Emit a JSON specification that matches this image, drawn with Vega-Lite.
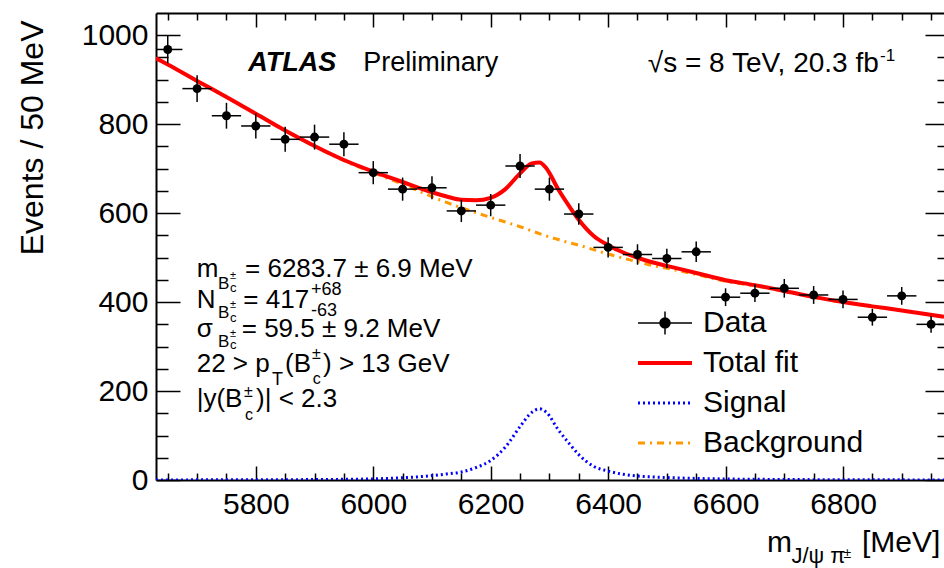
{
  "$schema": "https://vega.github.io/schema/vega-lite/v6.json",
  "width": 788,
  "height": 467,
  "autosize": {"type": "none"},
  "padding": {"left": 156, "top": 13, "right": 0, "bottom": 88},
  "background": "white",
  "config": {
    "view": {"stroke": null},
    "font": "Liberation Sans",
    "axis": {
      "grid": false,
      "domainColor": "black",
      "domainWidth": 2,
      "tickColor": "black",
      "tickWidth": 1.5,
      "labelFont": "Liberation Sans",
      "labelFontSize": 30,
      "labelColor": "black",
      "labelOverlap": false,
      "labelFlush": false,
      "titleFont": "Liberation Sans",
      "titleColor": "black",
      "titleFontWeight": "normal"
    }
  },
  "datasets": {
    "curves": [
      {"m": 5630, "v": 948, "series": "Background"},
      {"m": 5650, "v": 934, "series": "Background"},
      {"m": 5700, "v": 897, "series": "Background"},
      {"m": 5750, "v": 860.5, "series": "Background"},
      {"m": 5800, "v": 823, "series": "Background"},
      {"m": 5850, "v": 785, "series": "Background"},
      {"m": 5900, "v": 750, "series": "Background"},
      {"m": 5950, "v": 718, "series": "Background"},
      {"m": 6000, "v": 691, "series": "Background"},
      {"m": 6025, "v": 678, "series": "Background"},
      {"m": 6050, "v": 665, "series": "Background"},
      {"m": 6075, "v": 651, "series": "Background"},
      {"m": 6100, "v": 637, "series": "Background"},
      {"m": 6125, "v": 624, "series": "Background"},
      {"m": 6150, "v": 612, "series": "Background"},
      {"m": 6175, "v": 601, "series": "Background"},
      {"m": 6200, "v": 590.5, "series": "Background"},
      {"m": 6225, "v": 580, "series": "Background"},
      {"m": 6250, "v": 569.5, "series": "Background"},
      {"m": 6270, "v": 560, "series": "Background"},
      {"m": 6283, "v": 554, "series": "Background"},
      {"m": 6295, "v": 548.5, "series": "Background"},
      {"m": 6315, "v": 540.6, "series": "Background"},
      {"m": 6335, "v": 533, "series": "Background"},
      {"m": 6350, "v": 528, "series": "Background"},
      {"m": 6375, "v": 518, "series": "Background"},
      {"m": 6400, "v": 508, "series": "Background"},
      {"m": 6425, "v": 499, "series": "Background"},
      {"m": 6450, "v": 490.7, "series": "Background"},
      {"m": 6475, "v": 482.5, "series": "Background"},
      {"m": 6500, "v": 476, "series": "Background"},
      {"m": 6550, "v": 462, "series": "Background"},
      {"m": 6600, "v": 447, "series": "Background"},
      {"m": 6650, "v": 436.5, "series": "Background"},
      {"m": 6700, "v": 424, "series": "Background"},
      {"m": 6750, "v": 411, "series": "Background"},
      {"m": 6800, "v": 399.5, "series": "Background"},
      {"m": 6850, "v": 390, "series": "Background"},
      {"m": 6900, "v": 381, "series": "Background"},
      {"m": 6972, "v": 367, "series": "Background"},
      {"m": 5630, "v": 0.2, "series": "Signal"},
      {"m": 5700, "v": 0.3, "series": "Signal"},
      {"m": 5800, "v": 0.5, "series": "Signal"},
      {"m": 5900, "v": 1, "series": "Signal"},
      {"m": 5950, "v": 1.5, "series": "Signal"},
      {"m": 6000, "v": 2.5, "series": "Signal"},
      {"m": 6025, "v": 3.5, "series": "Signal"},
      {"m": 6050, "v": 5, "series": "Signal"},
      {"m": 6075, "v": 7, "series": "Signal"},
      {"m": 6100, "v": 10, "series": "Signal"},
      {"m": 6125, "v": 13.5, "series": "Signal"},
      {"m": 6150, "v": 18, "series": "Signal"},
      {"m": 6175, "v": 28, "series": "Signal"},
      {"m": 6200, "v": 44, "series": "Signal"},
      {"m": 6225, "v": 74, "series": "Signal"},
      {"m": 6250, "v": 120, "series": "Signal"},
      {"m": 6270, "v": 152, "series": "Signal"},
      {"m": 6283, "v": 160, "series": "Signal"},
      {"m": 6295, "v": 152, "series": "Signal"},
      {"m": 6315, "v": 113, "series": "Signal"},
      {"m": 6335, "v": 80, "series": "Signal"},
      {"m": 6350, "v": 57, "series": "Signal"},
      {"m": 6375, "v": 31, "series": "Signal"},
      {"m": 6400, "v": 20, "series": "Signal"},
      {"m": 6425, "v": 13, "series": "Signal"},
      {"m": 6450, "v": 9, "series": "Signal"},
      {"m": 6475, "v": 7, "series": "Signal"},
      {"m": 6500, "v": 5.5, "series": "Signal"},
      {"m": 6550, "v": 3.5, "series": "Signal"},
      {"m": 6600, "v": 2.3, "series": "Signal"},
      {"m": 6650, "v": 1.6, "series": "Signal"},
      {"m": 6700, "v": 1.1, "series": "Signal"},
      {"m": 6800, "v": 0.6, "series": "Signal"},
      {"m": 6900, "v": 0.3, "series": "Signal"},
      {"m": 6972, "v": 0.2, "series": "Signal"},
      {"m": 5630, "v": 948.2, "series": "Total fit"},
      {"m": 5650, "v": 934.2, "series": "Total fit"},
      {"m": 5700, "v": 897.3, "series": "Total fit"},
      {"m": 5750, "v": 860.9, "series": "Total fit"},
      {"m": 5800, "v": 823.5, "series": "Total fit"},
      {"m": 5850, "v": 785.7, "series": "Total fit"},
      {"m": 5900, "v": 751, "series": "Total fit"},
      {"m": 5950, "v": 719.5, "series": "Total fit"},
      {"m": 6000, "v": 693.5, "series": "Total fit"},
      {"m": 6025, "v": 681.5, "series": "Total fit"},
      {"m": 6050, "v": 670, "series": "Total fit"},
      {"m": 6075, "v": 658, "series": "Total fit"},
      {"m": 6100, "v": 647, "series": "Total fit"},
      {"m": 6125, "v": 637.5, "series": "Total fit"},
      {"m": 6150, "v": 630, "series": "Total fit"},
      {"m": 6175, "v": 629, "series": "Total fit"},
      {"m": 6200, "v": 634.5, "series": "Total fit"},
      {"m": 6225, "v": 654, "series": "Total fit"},
      {"m": 6250, "v": 689.5, "series": "Total fit"},
      {"m": 6270, "v": 712, "series": "Total fit"},
      {"m": 6283, "v": 714, "series": "Total fit"},
      {"m": 6295, "v": 700.5, "series": "Total fit"},
      {"m": 6315, "v": 653.6, "series": "Total fit"},
      {"m": 6335, "v": 613, "series": "Total fit"},
      {"m": 6350, "v": 585, "series": "Total fit"},
      {"m": 6375, "v": 549, "series": "Total fit"},
      {"m": 6400, "v": 528, "series": "Total fit"},
      {"m": 6425, "v": 512, "series": "Total fit"},
      {"m": 6450, "v": 499.7, "series": "Total fit"},
      {"m": 6475, "v": 489.5, "series": "Total fit"},
      {"m": 6500, "v": 481.5, "series": "Total fit"},
      {"m": 6550, "v": 465.5, "series": "Total fit"},
      {"m": 6600, "v": 449.3, "series": "Total fit"},
      {"m": 6650, "v": 438.1, "series": "Total fit"},
      {"m": 6700, "v": 425.1, "series": "Total fit"},
      {"m": 6750, "v": 411.8, "series": "Total fit"},
      {"m": 6800, "v": 400.1, "series": "Total fit"},
      {"m": 6850, "v": 390.4, "series": "Total fit"},
      {"m": 6900, "v": 381.3, "series": "Total fit"},
      {"m": 6972, "v": 367.2, "series": "Total fit"}
    ],
    "points": [
      {"m": 5650, "n": 968, "lo": 937, "hi": 999, "mlo": 5625, "mhi": 5675},
      {"m": 5700, "n": 880, "lo": 850, "hi": 910, "mlo": 5675, "mhi": 5725},
      {"m": 5750, "n": 819, "lo": 790, "hi": 848, "mlo": 5725, "mhi": 5775},
      {"m": 5800, "n": 796, "lo": 768, "hi": 824, "mlo": 5775, "mhi": 5825},
      {"m": 5850, "n": 766, "lo": 738, "hi": 794, "mlo": 5825, "mhi": 5875},
      {"m": 5900, "n": 771, "lo": 743, "hi": 799, "mlo": 5875, "mhi": 5925},
      {"m": 5950, "n": 755, "lo": 728, "hi": 782, "mlo": 5925, "mhi": 5975},
      {"m": 6000, "n": 691, "lo": 665, "hi": 717, "mlo": 5975, "mhi": 6025},
      {"m": 6050, "n": 654, "lo": 628, "hi": 680, "mlo": 6025, "mhi": 6075},
      {"m": 6100, "n": 657, "lo": 631, "hi": 683, "mlo": 6075, "mhi": 6125},
      {"m": 6150, "n": 605, "lo": 580, "hi": 630, "mlo": 6125, "mhi": 6175},
      {"m": 6200, "n": 618, "lo": 593, "hi": 643, "mlo": 6175, "mhi": 6225},
      {"m": 6250, "n": 706, "lo": 679, "hi": 733, "mlo": 6225, "mhi": 6275},
      {"m": 6300, "n": 654, "lo": 628, "hi": 680, "mlo": 6275, "mhi": 6325},
      {"m": 6350, "n": 598, "lo": 574, "hi": 622, "mlo": 6325, "mhi": 6375},
      {"m": 6400, "n": 523, "lo": 500, "hi": 546, "mlo": 6375, "mhi": 6425},
      {"m": 6450, "n": 507, "lo": 484, "hi": 530, "mlo": 6425, "mhi": 6475},
      {"m": 6500, "n": 498, "lo": 476, "hi": 520, "mlo": 6475, "mhi": 6525},
      {"m": 6550, "n": 513, "lo": 490, "hi": 536, "mlo": 6525, "mhi": 6575},
      {"m": 6600, "n": 411, "lo": 391, "hi": 431, "mlo": 6575, "mhi": 6625},
      {"m": 6650, "n": 420, "lo": 400, "hi": 440, "mlo": 6625, "mhi": 6675},
      {"m": 6700, "n": 431, "lo": 410, "hi": 452, "mlo": 6675, "mhi": 6725},
      {"m": 6750, "n": 416, "lo": 396, "hi": 436, "mlo": 6725, "mhi": 6775},
      {"m": 6800, "n": 406, "lo": 386, "hi": 426, "mlo": 6775, "mhi": 6825},
      {"m": 6850, "n": 366, "lo": 347, "hi": 385, "mlo": 6825, "mhi": 6875},
      {"m": 6900, "n": 414, "lo": 394, "hi": 434, "mlo": 6875, "mhi": 6925},
      {"m": 6950, "n": 350, "lo": 331, "hi": 369, "mlo": 6925, "mhi": 6975}
    ]
  },
  "resolve": {"axis": {"x": "independent", "y": "independent"}},
  "layer": [
    {
      "data": {"name": "curves"},
      "transform": [{"filter": "datum.series !== 'Total fit'"}],
      "mark": {"type": "line", "strokeWidth": 3, "clip": true, "interpolate": "monotone"},
      "encoding": {
        "x": {
          "field": "m", "type": "quantitative",
          "scale": {"domain": [5630, 6972], "nice": false, "zero": false},
          "axis": {
            "orient": "bottom", "title": null, "format": "d",
            "values": [5650,5700,5750,5800,5850,5900,5950,6000,6050,6100,6150,6200,6250,6300,6350,6400,6450,6500,6550,6600,6650,6700,6750,6800,6850,6900,6950],
            "labelExpr": "datum.value % 200 === 0 ? datum.label : ''",
            "tickSize": {"condition": {"test": "datum.value % 200 === 0", "value": -14}, "value": -7},
            "labelPadding": 23.5
          }
        },
        "y": {
          "field": "v", "type": "quantitative",
          "scale": {"domain": [0, 1050], "nice": false, "zero": true},
          "axis": {
            "orient": "left", "title": "Events / 50 MeV", "format": "d",
            "titleFontSize": 32, "titleAngle": 270, "titleAlign": "right", "titleBaseline": "alphabetic",
            "titleX": -114, "titleY": 7,
            "values": [0,50,100,150,200,250,300,350,400,450,500,550,600,650,700,750,800,850,900,950,1000],
            "labelExpr": "datum.value % 200 === 0 ? datum.label : ''",
            "tickSize": {"condition": {"test": "datum.value % 200 === 0", "value": -24}, "value": -12},
            "labelPadding": 32
          }
        },
        "color": {
          "field": "series", "type": "nominal",
          "scale": {"domain": ["Data", "Total fit", "Signal", "Background"], "range": ["#000000", "#ff0000", "#0000ff", "#ff9900"]},
          "legend": {
            "title": null, "orient": "none", "direction": "vertical",
            "legendX": 494, "legendY": 295, "padding": 0,
            "labelFont": "Liberation Sans", "labelFontSize": 30, "labelColor": "black", "labelLimit": 0,
            "symbolSize": 729, "labelOffset": 23, "rowPadding": 10,
            "encode": {
              "symbols": {
                "update": {
                  "shape": {"signal": "datum.value === 'Data' ? 'M-2,0H2M0,-0.85V0.85M0.37,0A0.37,0.37,0,1,1,-0.37,0A0.37,0.37,0,1,1,0.37,0Z' : 'M-2,0H2'"},
                  "strokeWidth": {"signal": "datum.value === 'Data' ? 1.5 : (datum.value === 'Total fit' ? 4 : 3)"},
                  "strokeDash": {"signal": "datum.value === 'Signal' ? [2,3] : (datum.value === 'Background' ? [7,5,2,5] : [])"},
                  "fill": {"signal": "datum.value === 'Data' ? 'black' : 'transparent'"},
                  "stroke": {"signal": "scale('color', datum.value)"},
                  "opacity": {"value": 1}
                }
              }
            }
          }
        },
        "strokeDash": {
          "field": "series", "type": "nominal",
          "scale": {"domain": ["Signal", "Background"], "range": [[2, 3], [7, 5, 2, 5]]},
          "legend": null
        }
      }
    },
    {
      "data": {"name": "curves"},
      "transform": [{"filter": "datum.series === 'Total fit'"}],
      "mark": {"type": "line", "strokeWidth": 4, "clip": true, "interpolate": "monotone"},
      "encoding": {
        "x": {
          "field": "m", "type": "quantitative",
          "axis": {
            "orient": "top", "title": null, "labels": false,
            "values": [5650,5700,5750,5800,5850,5900,5950,6000,6050,6100,6150,6200,6250,6300,6350,6400,6450,6500,6550,6600,6650,6700,6750,6800,6850,6900,6950],
            "tickSize": {"condition": {"test": "datum.value % 200 === 0", "value": -14}, "value": -7}
          }
        },
        "y": {
          "field": "v", "type": "quantitative",
          "axis": {
            "orient": "right", "title": null, "labels": false, "offset": 5,
            "values": [0,50,100,150,200,250,300,350,400,450,500,550,600,650,700,750,800,850,900,950,1000],
            "tickSize": {"condition": {"test": "datum.value % 200 === 0", "value": -24}, "value": -12}
          }
        },
        "color": {"field": "series", "type": "nominal"}
      }
    },
    {
      "data": {"name": "points"},
      "mark": {"type": "rule", "color": "black", "strokeWidth": 1.5, "clip": true},
      "encoding": {
        "x": {"field": "m", "type": "quantitative", "axis": null},
        "y": {"field": "lo", "type": "quantitative", "axis": null},
        "y2": {"field": "hi"}
      }
    },
    {
      "data": {"name": "points"},
      "mark": {"type": "rule", "color": "black", "strokeWidth": 1.5, "clip": true},
      "encoding": {
        "x": {"field": "mlo", "type": "quantitative", "axis": null},
        "x2": {"field": "mhi"},
        "y": {"field": "n", "type": "quantitative", "axis": null}
      }
    },
    {
      "data": {"name": "points"},
      "mark": {"type": "point", "shape": "circle", "filled": true, "size": 80, "opacity": 1, "clip": true},
      "encoding": {
        "x": {"field": "m", "type": "quantitative", "axis": null},
        "y": {"field": "n", "type": "quantitative", "axis": null},
        "color": {"datum": "Data", "type": "nominal"}
      }
    },
    {"data": {"values": [{}]}, "mark": {"type": "text", "align": "left", "baseline": "alphabetic", "fontSize": 27, "fontStyle": "italic", "fontWeight": "bold", "color": "black"},
     "encoding": {"x": {"datum": 5787, "type": "quantitative", "axis": null}, "y": {"datum": 920, "type": "quantitative", "axis": null}, "text": {"value": "ATLAS"}}},
    {"data": {"values": [{}]}, "mark": {"type": "text", "align": "left", "baseline": "alphabetic", "fontSize": 27, "color": "black"},
     "encoding": {"x": {"datum": 5983, "type": "quantitative", "axis": null}, "y": {"datum": 920, "type": "quantitative", "axis": null}, "text": {"value": "Preliminary"}}},
    {"data": {"values": [{}]}, "mark": {"type": "text", "align": "right", "baseline": "alphabetic", "fontSize": 28, "color": "black"},
     "encoding": {"x": {"datum": 6861, "type": "quantitative", "axis": null}, "y": {"datum": 918, "type": "quantitative", "axis": null}, "text": {"value": "√s = 8 TeV, 20.3 fb"}}},
    {"data": {"values": [{}]}, "mark": {"type": "text", "align": "left", "baseline": "alphabetic", "fontSize": 17, "color": "black"},
     "encoding": {"x": {"datum": 6863, "type": "quantitative", "axis": null}, "y": {"datum": 942.7, "type": "quantitative", "axis": null}, "text": {"value": "-1"}}},

    {"data": {"values": [{}]}, "mark": {"type": "text", "align": "left", "baseline": "alphabetic", "fontSize": 26, "color": "black"},
     "encoding": {"x": {"datum": 5699.3, "type": "quantitative", "axis": null}, "y": {"datum": 455.7, "type": "quantitative", "axis": null}, "text": {"value": "m"}}},
    {"data": {"values": [{}]}, "mark": {"type": "text", "align": "left", "baseline": "alphabetic", "fontSize": 17, "color": "black"},
     "encoding": {"x": {"datum": 5735.6, "type": "quantitative", "axis": null}, "y": {"datum": 429.4, "type": "quantitative", "axis": null}, "text": {"value": "B"}}},
    {"data": {"values": [{}]}, "mark": {"type": "text", "align": "left", "baseline": "alphabetic", "fontSize": 11, "color": "black"},
     "encoding": {"x": {"datum": 5756, "type": "quantitative", "axis": null}, "y": {"datum": 451.9, "type": "quantitative", "axis": null}, "text": {"value": "±"}}},
    {"data": {"values": [{}]}, "mark": {"type": "text", "align": "left", "baseline": "alphabetic", "fontSize": 13, "color": "black"},
     "encoding": {"x": {"datum": 5756, "type": "quantitative", "axis": null}, "y": {"datum": 422.7, "type": "quantitative", "axis": null}, "text": {"value": "c"}}},
    {"data": {"values": [{}]}, "mark": {"type": "text", "align": "left", "baseline": "alphabetic", "fontSize": 26, "color": "black"},
     "encoding": {"x": {"datum": 5781.6, "type": "quantitative", "axis": null}, "y": {"datum": 455.7, "type": "quantitative", "axis": null}, "text": {"value": "= 6283.7 ± 6.9 MeV"}}},

    {"data": {"values": [{}]}, "mark": {"type": "text", "align": "left", "baseline": "alphabetic", "fontSize": 26, "color": "black"},
     "encoding": {"x": {"datum": 5699.3, "type": "quantitative", "axis": null}, "y": {"datum": 386, "type": "quantitative", "axis": null}, "text": {"value": "N"}}},
    {"data": {"values": [{}]}, "mark": {"type": "text", "align": "left", "baseline": "alphabetic", "fontSize": 17, "color": "black"},
     "encoding": {"x": {"datum": 5735.6, "type": "quantitative", "axis": null}, "y": {"datum": 363.5, "type": "quantitative", "axis": null}, "text": {"value": "B"}}},
    {"data": {"values": [{}]}, "mark": {"type": "text", "align": "left", "baseline": "alphabetic", "fontSize": 11, "color": "black"},
     "encoding": {"x": {"datum": 5756, "type": "quantitative", "axis": null}, "y": {"datum": 387, "type": "quantitative", "axis": null}, "text": {"value": "±"}}},
    {"data": {"values": [{}]}, "mark": {"type": "text", "align": "left", "baseline": "alphabetic", "fontSize": 13, "color": "black"},
     "encoding": {"x": {"datum": 5756, "type": "quantitative", "axis": null}, "y": {"datum": 356, "type": "quantitative", "axis": null}, "text": {"value": "c"}}},
    {"data": {"values": [{}]}, "mark": {"type": "text", "align": "left", "baseline": "alphabetic", "fontSize": 26, "color": "black"},
     "encoding": {"x": {"datum": 5778.7, "type": "quantitative", "axis": null}, "y": {"datum": 386, "type": "quantitative", "axis": null}, "text": {"value": "= 417"}}},
    {"data": {"values": [{}]}, "mark": {"type": "text", "align": "left", "baseline": "alphabetic", "fontSize": 18, "color": "black"},
     "encoding": {"x": {"datum": 5894, "type": "quantitative", "axis": null}, "y": {"datum": 415.9, "type": "quantitative", "axis": null}, "text": {"value": "+68"}}},
    {"data": {"values": [{}]}, "mark": {"type": "text", "align": "left", "baseline": "alphabetic", "fontSize": 18, "color": "black"},
     "encoding": {"x": {"datum": 5894, "type": "quantitative", "axis": null}, "y": {"datum": 368.7, "type": "quantitative", "axis": null}, "text": {"value": "-63"}}},

    {"data": {"values": [{}]}, "mark": {"type": "text", "align": "left", "baseline": "alphabetic", "fontSize": 26, "color": "black"},
     "encoding": {"x": {"datum": 5699.3, "type": "quantitative", "axis": null}, "y": {"datum": 322.2, "type": "quantitative", "axis": null}, "text": {"value": "σ"}}},
    {"data": {"values": [{}]}, "mark": {"type": "text", "align": "left", "baseline": "alphabetic", "fontSize": 17, "color": "black"},
     "encoding": {"x": {"datum": 5735.6, "type": "quantitative", "axis": null}, "y": {"datum": 299.7, "type": "quantitative", "axis": null}, "text": {"value": "B"}}},
    {"data": {"values": [{}]}, "mark": {"type": "text", "align": "left", "baseline": "alphabetic", "fontSize": 11, "color": "black"},
     "encoding": {"x": {"datum": 5756, "type": "quantitative", "axis": null}, "y": {"datum": 322.2, "type": "quantitative", "axis": null}, "text": {"value": "±"}}},
    {"data": {"values": [{}]}, "mark": {"type": "text", "align": "left", "baseline": "alphabetic", "fontSize": 13, "color": "black"},
     "encoding": {"x": {"datum": 5756, "type": "quantitative", "axis": null}, "y": {"datum": 295, "type": "quantitative", "axis": null}, "text": {"value": "c"}}},
    {"data": {"values": [{}]}, "mark": {"type": "text", "align": "left", "baseline": "alphabetic", "fontSize": 26, "color": "black"},
     "encoding": {"x": {"datum": 5776, "type": "quantitative", "axis": null}, "y": {"datum": 322.2, "type": "quantitative", "axis": null}, "text": {"value": "= 59.5 ± 9.2 MeV"}}},

    {"data": {"values": [{}]}, "mark": {"type": "text", "align": "left", "baseline": "alphabetic", "fontSize": 26, "color": "black"},
     "encoding": {"x": {"datum": 5699.3, "type": "quantitative", "axis": null}, "y": {"datum": 242.8, "type": "quantitative", "axis": null}, "text": {"value": "22 > p"}}},
    {"data": {"values": [{}]}, "mark": {"type": "text", "align": "left", "baseline": "alphabetic", "fontSize": 18, "color": "black"},
     "encoding": {"x": {"datum": 5827.6, "type": "quantitative", "axis": null}, "y": {"datum": 213.6, "type": "quantitative", "axis": null}, "text": {"value": "T"}}},
    {"data": {"values": [{}]}, "mark": {"type": "text", "align": "left", "baseline": "alphabetic", "fontSize": 26, "color": "black"},
     "encoding": {"x": {"datum": 5849.8, "type": "quantitative", "axis": null}, "y": {"datum": 242.8, "type": "quantitative", "axis": null}, "text": {"value": "(B"}}},
    {"data": {"values": [{}]}, "mark": {"type": "text", "align": "left", "baseline": "alphabetic", "fontSize": 16, "color": "black"},
     "encoding": {"x": {"datum": 5895.8, "type": "quantitative", "axis": null}, "y": {"datum": 272, "type": "quantitative", "axis": null}, "text": {"value": "±"}}},
    {"data": {"values": [{}]}, "mark": {"type": "text", "align": "left", "baseline": "alphabetic", "fontSize": 16, "color": "black"},
     "encoding": {"x": {"datum": 5897, "type": "quantitative", "axis": null}, "y": {"datum": 215.8, "type": "quantitative", "axis": null}, "text": {"value": "c"}}},
    {"data": {"values": [{}]}, "mark": {"type": "text", "align": "left", "baseline": "alphabetic", "fontSize": 26, "color": "black"},
     "encoding": {"x": {"datum": 5914.5, "type": "quantitative", "axis": null}, "y": {"datum": 242.8, "type": "quantitative", "axis": null}, "text": {"value": ") > 13 GeV"}}},

    {"data": {"values": [{}]}, "mark": {"type": "text", "align": "left", "baseline": "alphabetic", "fontSize": 26, "color": "black"},
     "encoding": {"x": {"datum": 5699.3, "type": "quantitative", "axis": null}, "y": {"datum": 164.8, "type": "quantitative", "axis": null}, "text": {"value": "|y(B"}}},
    {"data": {"values": [{}]}, "mark": {"type": "text", "align": "left", "baseline": "alphabetic", "fontSize": 16, "color": "black"},
     "encoding": {"x": {"datum": 5780, "type": "quantitative", "axis": null}, "y": {"datum": 186.6, "type": "quantitative", "axis": null}, "text": {"value": "±"}}},
    {"data": {"values": [{}]}, "mark": {"type": "text", "align": "left", "baseline": "alphabetic", "fontSize": 16, "color": "black"},
     "encoding": {"x": {"datum": 5781.6, "type": "quantitative", "axis": null}, "y": {"datum": 134.9, "type": "quantitative", "axis": null}, "text": {"value": "c"}}},
    {"data": {"values": [{}]}, "mark": {"type": "text", "align": "left", "baseline": "alphabetic", "fontSize": 26, "color": "black"},
     "encoding": {"x": {"datum": 5800.4, "type": "quantitative", "axis": null}, "y": {"datum": 164.8, "type": "quantitative", "axis": null}, "text": {"value": ")| < 2.3"}}},

    {"data": {"values": [{}]}, "mark": {"type": "text", "align": "left", "baseline": "alphabetic", "fontSize": 30, "color": "black"},
     "encoding": {"x": {"datum": 6670.4, "type": "quantitative", "axis": null}, "y": {"datum": -161.9, "type": "quantitative", "axis": null}, "text": {"value": "m"}}},
    {"data": {"values": [{}]}, "mark": {"type": "text", "align": "left", "baseline": "alphabetic", "fontSize": 22, "color": "black"},
     "encoding": {"x": {"datum": 6712.2, "type": "quantitative", "axis": null}, "y": {"datum": -187.5, "type": "quantitative", "axis": null}, "text": {"value": "J/ψ π"}}},
    {"data": {"values": [{}]}, "mark": {"type": "text", "align": "left", "baseline": "alphabetic", "fontSize": 14, "color": "black"},
     "encoding": {"x": {"datum": 6800.8, "type": "quantitative", "axis": null}, "y": {"datum": -175, "type": "quantitative", "axis": null}, "text": {"value": "±"}}},
    {"data": {"values": [{}]}, "mark": {"type": "text", "align": "right", "baseline": "alphabetic", "fontSize": 30, "color": "black"},
     "encoding": {"x": {"datum": 6965.6, "type": "quantitative", "axis": null}, "y": {"datum": -161.9, "type": "quantitative", "axis": null}, "text": {"value": "[MeV]"}}}
  ]
}
